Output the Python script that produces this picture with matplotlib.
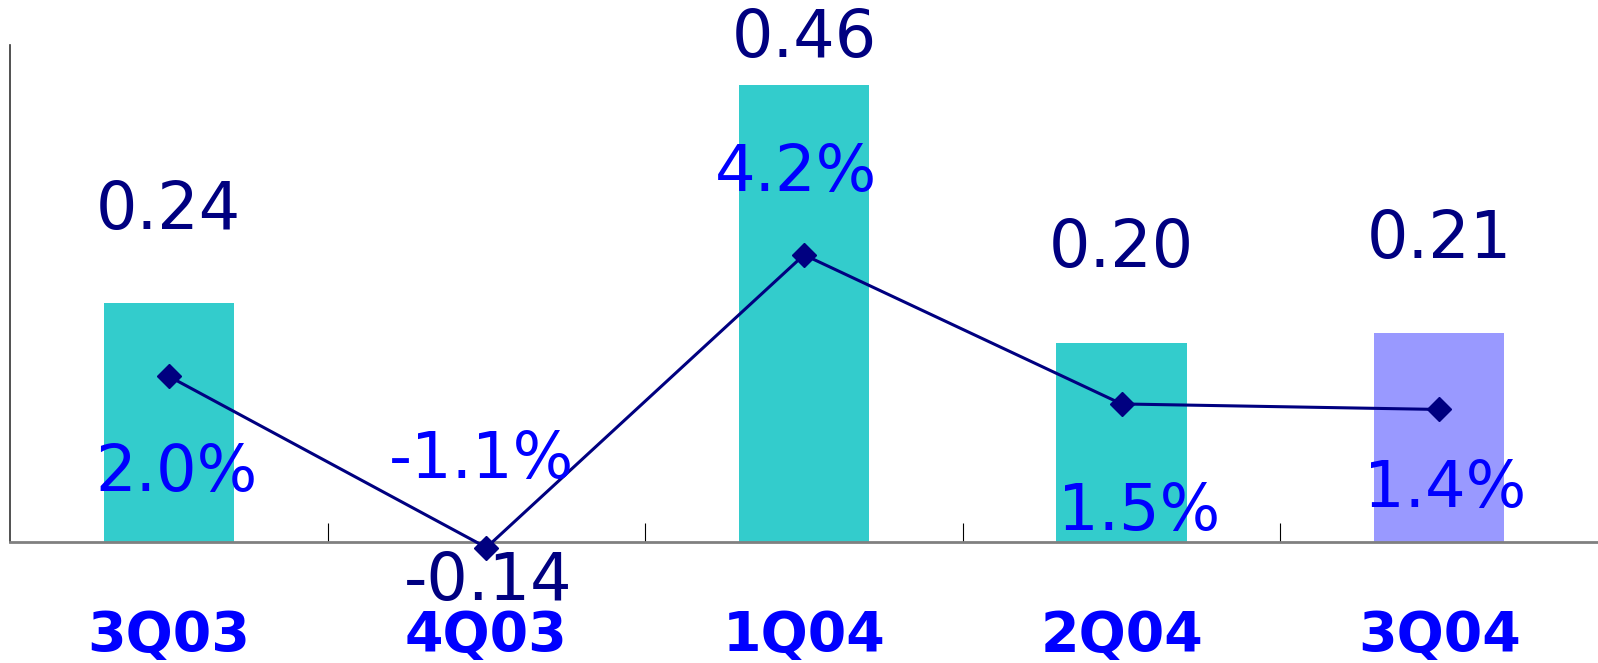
import numpy as np
import matplotlib.pyplot as plt

quarters = ["3Q03", "4Q03", "1Q04", "2Q04", "3Q04"]
eps = [0.24, -0.14, 0.46, 0.20, 0.21]
eps_text = ["0.24", "-0.14", "0.46", "0.20", "0.21"]
growth = [2.0, -1.1, 4.2, 1.5, 1.4]
growth_text = ["2.0%", "-1.1%", "4.2%", "1.5%", "1.4%"]

bar_colors = ["#33CCCC", "#33CCCC", "#33CCCC", "#33CCCC", "#9999FF"]
navy = "#000080"
blue = "#0000FF"

# label offsets in pixels (dx, dy) -- hand tuned
eps_off = [(0, 92), (2, -40), (0, 46), (0, 94), (0, 93)]
pct_off = [(8, -97), (-5, 88), (-8, 82), (18, -108), (6, -80)]

fig = plt.figure(figsize=(15.98, 6.63), dpi=100)
ax = fig.add_axes([10 / 1598, 121 / 663, 1 - 10 / 1598, 497 / 663])
x = np.arange(len(quarters))

ax.bar(x, eps, width=0.41, color=bar_colors, zorder=1)
ax.set_xlim(-0.5, len(quarters) - 0.5)
ax.set_ylim(0, 0.5)

for s in ["top", "right"]:
    ax.spines[s].set_visible(False)
ax.spines["left"].set_color("#333333")
ax.spines["left"].set_linewidth(1.2)
ax.spines["bottom"].set_color("#808080")
ax.spines["bottom"].set_linewidth(2)
ax.spines["bottom"].set_zorder(5)
ax.set_yticks([])

# boundary ticks pointing inwards, labels on minor ticks at centres
ax.set_xticks(np.arange(0.5, len(quarters) - 0.5, 1))
ax.set_xticklabels([])
ax.tick_params(axis="x", which="major", direction="in", length=14, width=0.8, color="black")
ax.set_xticks(x, minor=True)
ax.set_xticklabels(quarters, minor=True, fontsize=40, fontweight="bold", color=blue,
                   family="DejaVu Sans")
ax.tick_params(axis="x", which="minor", length=0, pad=48)

for i in range(len(quarters)):
    ax.annotate(eps_text[i], (x[i], max(eps[i], 0)), xytext=eps_off[i],
                textcoords="offset pixels", ha="center", va="center",
                fontsize=47, color=navy, annotation_clip=False)

ax2 = ax.twinx()
ax2.set_ylim(-1, 8)
ax2.axis("off")
ax2.plot(x, growth, color=navy, lw=2.2, marker="D", ms=12, clip_on=False, zorder=3)
for i in range(len(quarters)):
    ax2.annotate(growth_text[i], (x[i], growth[i]), xytext=pct_off[i],
                 textcoords="offset pixels", ha="center", va="center",
                 fontsize=46, color=blue, annotation_clip=False)

fig.savefig("out.png", dpi=100)
